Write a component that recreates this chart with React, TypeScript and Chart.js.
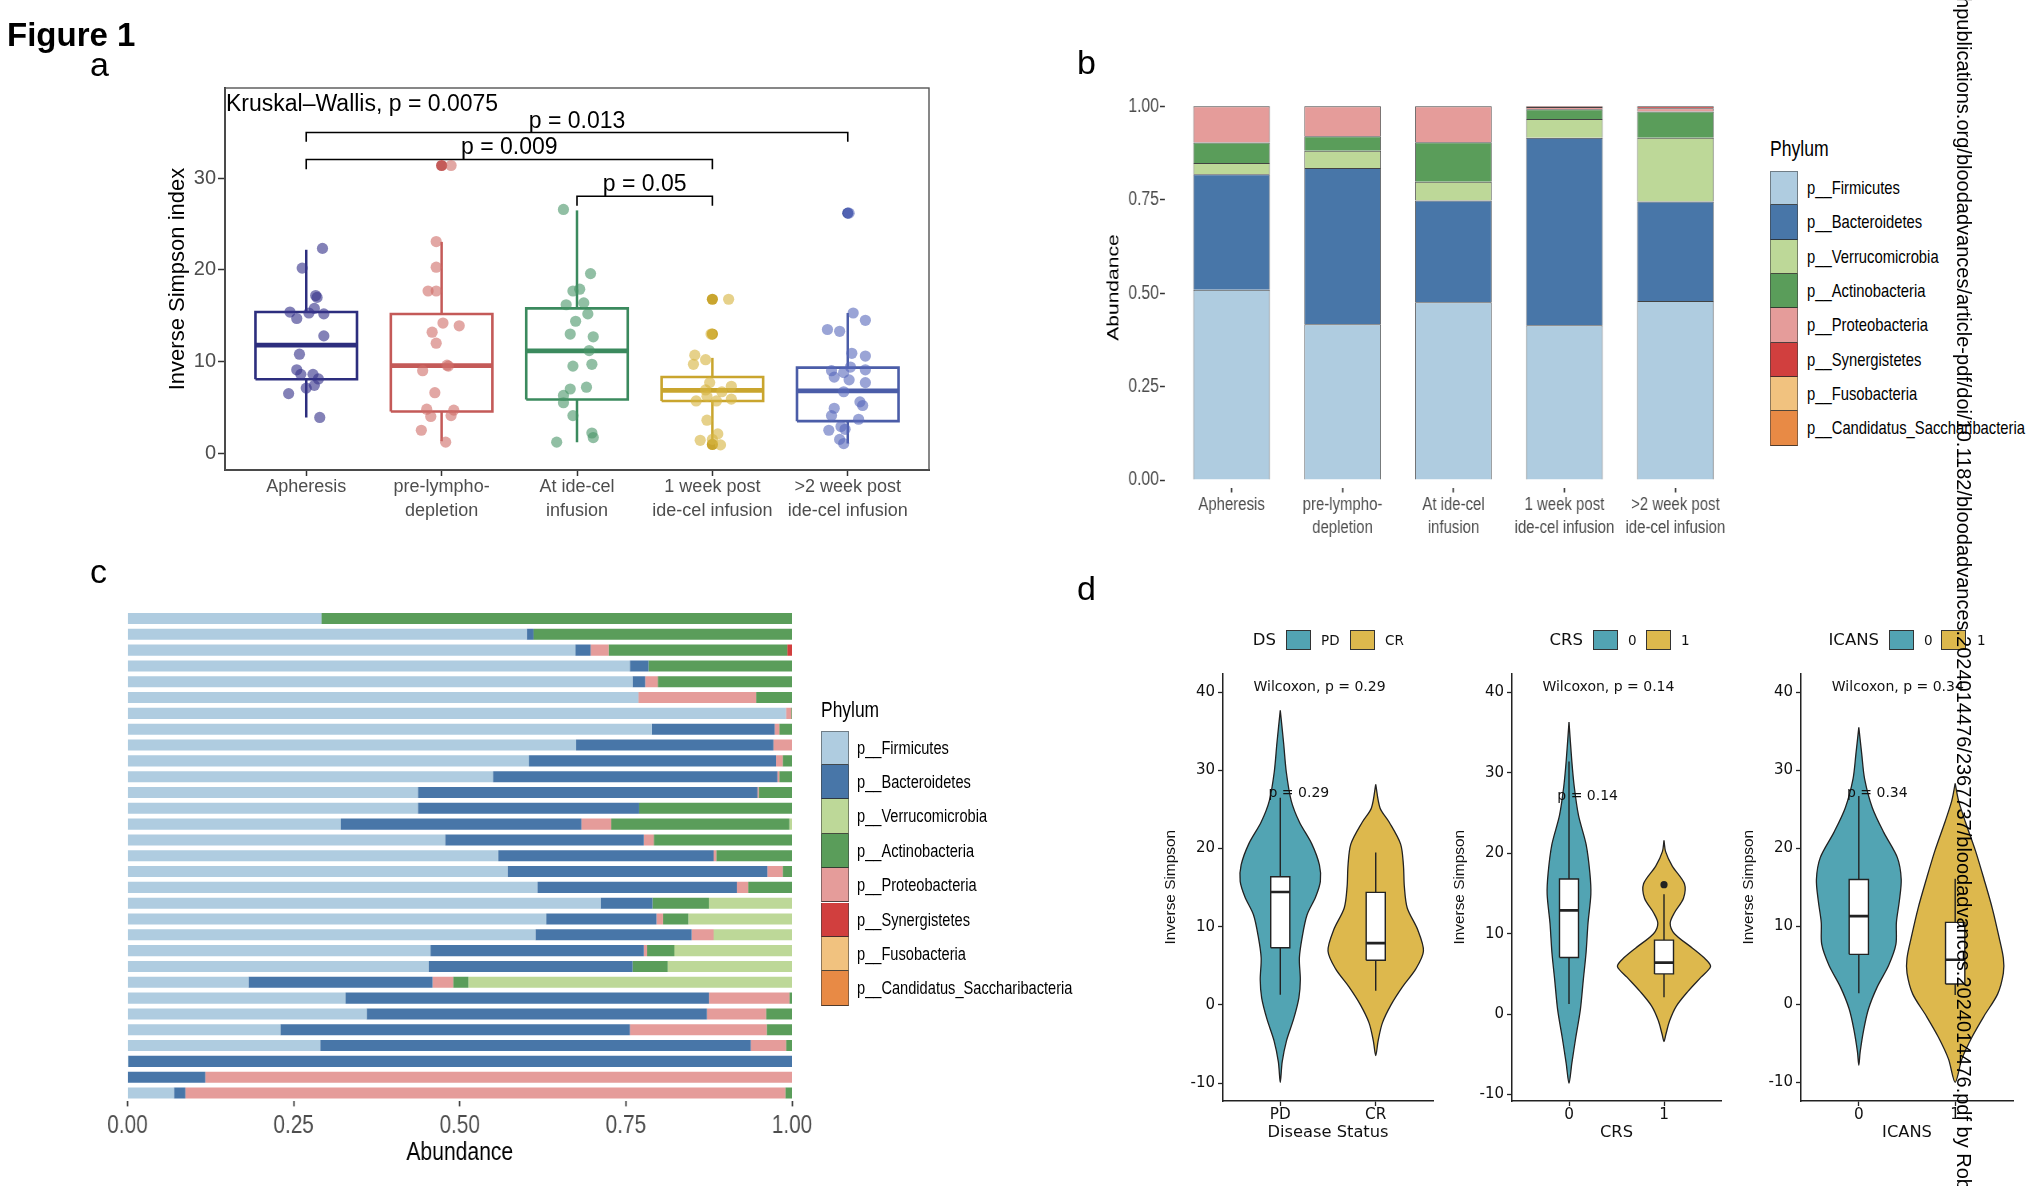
import React, { useEffect, useRef } from 'react';
import { Chart, registerables } from 'chart.js';

Chart.register(...registerables);

// ---------------- fonts ----------------
const SANS = "'Liberation Sans', Arial, Helvetica, sans-serif";
const DEJAVU = "'DejaVu Sans', Verdana, sans-serif";

// ---------------- panel a data ----------------
const A_CATEGORIES = ['Apheresis', 'pre-lympho-depletion', 'At ide-cel infusion', '1 week post ide-cel infusion', '>2 week post ide-cel infusion'];
const A_TICK_LABELS = [['Apheresis'], ['pre-lympho-', 'depletion'], ['At ide-cel', 'infusion'], ['1 week post', 'ide-cel infusion'], ['>2 week post', 'ide-cel infusion']];
const A_Y_TICKS = [0, 10, 20, 30];
const A_Q1 = [8.06, 4.54, 5.85, 5.7, 3.49];
const A_MEDIAN = [11.8, 9.56, 11.17, 6.86, 6.79];
const A_Q3 = [15.4, 15.19, 15.8, 8.32, 9.34];
const A_WHISK_LO = [3.9, 1.31, 1.2, 1.05, 1.05];
const A_WHISK_HI = [22.2, 23.06, 26.5, 10.4, 15.3];

const APH_Y = [22.35, 20.2, 17.2, 17.0, 15.4, 15.3, 15.8, 15.2, 14.7, 12.8, 10.8, 9.1, 8.6, 8.6, 8.1, 7.4, 7.1, 6.5, 3.9];
const APH_DX = [0.12, -0.03, 0.07, 0.08, -0.12, 0.02, 0.06, 0.13, -0.07, 0.13, -0.05, -0.07, -0.04, 0.05, 0.09, 0.06, 0.0, -0.13, 0.1];
const PRE_Y = [31.4, 23.1, 20.3, 17.7, 17.7, 14.2, 13.9, 13.2, 12.0, 9.6, 9.0, 9.5, 6.6, 4.8, 4.7, 4.0, 4.1, 2.5, 1.2];
const PRE_DX = [0.07, -0.04, -0.04, -0.1, -0.04, 0.01, 0.13, -0.07, -0.04, 0.04, -0.14, 0.05, -0.05, -0.11, 0.09, -0.08, 0.07, -0.15, 0.03];
const INF_Y = [26.6, 19.6, 17.7, 17.9, 16.2, 16.4, 15.2, 14.4, 13.0, 12.7, 11.2, 9.5, 9.7, 7.0, 7.2, 6.3, 5.5, 4.1, 2.2, 1.7, 1.2];
const INF_DX = [-0.1, 0.1, -0.03, 0.02, -0.08, 0.05, 0.08, -0.01, -0.05, 0.12, 0.09, -0.03, 0.11, -0.05, 0.07, -0.1, -0.1, -0.03, 0.11, 0.12, -0.15];
const WK1_Y = [16.8, 13.0, 10.7, 10.2, 9.7, 7.7, 7.3, 6.9, 6.7, 6.2, 5.7, 5.9, 5.7, 3.6, 2.1, 1.4, 1.5, 0.9];
const WK1_DX = [0.12, -0.01, -0.13, -0.05, -0.14, -0.02, 0.14, -0.05, 0.07, -0.04, -0.12, 0.14, 0.03, -0.04, 0.04, -0.09, 0.0, 0.06];
const WK2_Y = [26.2, 15.3, 14.5, 13.5, 13.3, 10.9, 10.6, 9.4, 9.0, 8.8, 9.1, 8.0, 7.7, 8.3, 6.7, 5.6, 5.2, 4.9, 4.1, 3.7, 2.9, 2.6, 2.5, 1.5, 1.05];
const WK2_DX = [0.01, 0.04, 0.13, -0.15, -0.06, 0.03, 0.13, 0.02, -0.12, -0.03, 0.13, 0.01, 0.13, -0.1, -0.03, 0.09, 0.11, -0.1, -0.12, 0.08, -0.05, -0.02, -0.14, -0.06, -0.03];

const A_OUT_CAT = [2, 4, 4, 4, 5];
const A_OUT_Y = [31.4, 16.8, 13.0, 0.95, 26.2];

const A_BRACKET_FROM = [1, 1, 3];
const A_BRACKET_TO = [5, 4, 4];
const A_BRACKET_Y = [35.0, 32.06, 28.05];
const A_BRACKET_TIP = [34.0, 31.0, 27.0];
const A_BRACKET_LABELS = ['p = 0.013', 'p = 0.009', 'p = 0.05'];
const A_KRUSKAL = 'Kruskal\u2013Wallis, p = 0.0075';

const A_BOX_COLORS = ['#2D2E7E', '#C45A58', '#3B8A5E', '#C9A52E', '#4B5DA8'];
const A_POINT_COLORS = ['rgba(55,52,138,0.62)', 'rgba(207,108,104,0.6)', 'rgba(72,148,104,0.6)', 'rgba(214,180,66,0.62)', 'rgba(86,104,186,0.6)'];

// ---------------- phylum data (panels b, c) ----------------
const PHYLA = ['p__Firmicutes', 'p__Bacteroidetes', 'p__Verrucomicrobia', 'p__Actinobacteria', 'p__Proteobacteria', 'p__Synergistetes', 'p__Fusobacteria', 'p__Candidatus_Saccharibacteria'];
const PHYLUM_COLORS = ['#AFCCE0', '#4876A8', '#BDD898', '#5A9D5A', '#E59C9A', '#D13F3E', '#F1C27F', '#E88A45'];

const B_CATEGORIES = A_CATEGORIES;
const B_TICK_LABELS = A_TICK_LABELS;
const B_Y_TICKS = [0, 0.25, 0.5, 0.75, 1.0];
const B_FIRMICUTES = [0.509, 0.417, 0.476, 0.414, 0.479];
const B_BACTEROIDETES = [0.309, 0.418, 0.272, 0.502, 0.266];
const B_VERRUCOMICROBIA = [0.03, 0.046, 0.05, 0.05, 0.171];
const B_ACTINOBACTERIA = [0.055, 0.039, 0.106, 0.026, 0.07];
const B_PROTEOBACTERIA = [0.097, 0.08, 0.096, 0.006, 0.009];
const B_SYNERGISTETES = [0, 0, 0, 0.002, 0.005];

const C_SAMPLES = ['S01', 'S02', 'S03', 'S04', 'S05', 'S06', 'S07', 'S08', 'S09', 'S10', 'S11', 'S12', 'S13', 'S14', 'S15', 'S16', 'S17', 'S18', 'S19', 'S20', 'S21', 'S22', 'S23', 'S24', 'S25', 'S26', 'S27', 'S28', 'S29', 'S30', 'S31'];
const C_X_TICKS = [0, 0.25, 0.5, 0.75, 1.0];
const C_FIRMICUTES = [0.292, 0.601, 0.674, 0.756, 0.76, 0.769, 0.991, 0.789, 0.675, 0.604, 0.55, 0.437, 0.437, 0.321, 0.478, 0.558, 0.572, 0.617, 0.712, 0.63, 0.614, 0.456, 0.453, 0.182, 0.328, 0.36, 0.23, 0.29, 0.001, 0, 0.07];
const C_BACTEROIDETES = [0, 0.01, 0.023, 0.028, 0.019, 0, 0, 0.185, 0.297, 0.372, 0.428, 0.511, 0.333, 0.362, 0.299, 0.324, 0.391, 0.3, 0.078, 0.166, 0.235, 0.321, 0.307, 0.277, 0.547, 0.512, 0.526, 0.648, 0.999, 0.117, 0.017];
const C_PROTEOBACTERIA = [0, 0, 0.027, 0, 0.019, 0.177, 0.008, 0.007, 0.028, 0.01, 0.003, 0.002, 0, 0.045, 0.015, 0.004, 0.023, 0.017, 0, 0.01, 0.033, 0.005, 0, 0.031, 0.121, 0.089, 0.206, 0.053, 0, 0.883, 0.903];
const C_ACTINOBACTERIA = [0.708, 0.389, 0.269, 0.216, 0.202, 0.054, 0.001, 0.019, 0, 0.014, 0.019, 0.05, 0.23, 0.268, 0.208, 0.114, 0.014, 0.066, 0.085, 0.038, 0, 0.041, 0.053, 0.023, 0.004, 0.039, 0.038, 0.009, 0, 0, 0.01];
const C_VERRUCOMICROBIA = [0, 0, 0, 0, 0, 0, 0, 0, 0, 0, 0, 0, 0, 0.004, 0, 0, 0, 0, 0.125, 0.156, 0.118, 0.177, 0.187, 0.487, 0, 0, 0, 0, 0, 0, 0];
const C_SYNERGISTETES = [0, 0, 0.007, 0, 0, 0, 0, 0, 0, 0, 0, 0, 0, 0, 0, 0, 0, 0, 0, 0, 0, 0, 0, 0, 0, 0, 0, 0, 0, 0, 0];

// ---------------- panel d data ----------------
const D_Y_TICKS = [-10, 0, 10, 20, 30, 40];
const DS_LABELS = ['PD', 'CR'];
const CRS_LABELS = ['0', '1'];
const ICANS_LABELS = ['0', '1'];

const DS_PD_VY = [37.7, 33.5, 29.8, 26.1, 23.4, 20.6, 17.9, 15.8, 13.8, 11.5, 8.7, 6.0, 3.2, 0.9, -1.8, -4.6, -7.3, -9.9];
const DS_PD_VW = [0, 0.035, 0.063, 0.115, 0.2, 0.33, 0.41, 0.42, 0.37, 0.28, 0.23, 0.2, 0.21, 0.195, 0.14, 0.065, 0.02, 0];
const DS_CR_VY = [28.2, 25.2, 23.4, 20.6, 17.9, 15.1, 12.4, 9.6, 6.9, 4.6, 2.3, 0, -2.3, -4.6, -6.5];
const DS_CR_VW = [0, 0.045, 0.14, 0.26, 0.29, 0.3, 0.33, 0.44, 0.5, 0.42, 0.28, 0.16, 0.07, 0.025, 0];
const CRS0_VY = [36.3, 31.4, 28.3, 24.7, 21.1, 17.5, 14.9, 11.3, 7.7, 4.2, 0.6, -3.0, -6.1, -8.6];
const CRS0_VW = [0, 0.03, 0.055, 0.1, 0.18, 0.22, 0.23, 0.2, 0.18, 0.15, 0.12, 0.07, 0.03, 0];
const CRS1_VY = [21.6, 20.2, 18.4, 16.2, 14.4, 12.6, 11.3, 10.0, 8.2, 6.8, 5.9, 4.6, 2.8, 1.0, -0.8, -2.5, -3.4];
const CRS1_VW = [0, 0.017, 0.087, 0.215, 0.205, 0.11, 0.065, 0.11, 0.3, 0.44, 0.49, 0.39, 0.25, 0.13, 0.06, 0.02, 0];
const ICANS0_VY = [35.5, 32.1, 28.9, 25.2, 22.0, 18.8, 16.0, 13.2, 10.5, 7.7, 5.0, 2.2, -0.6, -3.3, -6.1, -7.8];
const ICANS0_VW = [0, 0.03, 0.06, 0.14, 0.26, 0.4, 0.44, 0.42, 0.39, 0.385, 0.31, 0.19, 0.1, 0.05, 0.014, 0];
const ICANS1_VY = [28.3, 26.1, 23.4, 19.7, 16.0, 12.3, 8.6, 5.9, 4.0, 1.3, -1.5, -4.2, -7.0, -10.0];
const ICANS1_VW = [0, 0.035, 0.105, 0.21, 0.3, 0.385, 0.455, 0.5, 0.5, 0.44, 0.3, 0.175, 0.07, 0];

const DS_Q1 = [7.3, 5.7];
const DS_MED = [14.45, 7.9];
const DS_Q3 = [16.4, 14.4];
const DS_LO = [1.3, 1.8];
const DS_HI = [26.5, 19.5];
const CRS_Q1 = [7.05, 5.0];
const CRS_MED = [12.9, 6.4];
const CRS_Q3 = [16.8, 9.2];
const CRS_LO = [1.25, 2.1];
const CRS_HI = [31.4, 14.9];
const CRS_OUT_X = [2];
const CRS_OUT_Y = [16.1];
const ICANS_Q1 = [6.4, 2.6];
const ICANS_MED = [11.3, 5.7];
const ICANS_Q3 = [16.0, 10.5];
const ICANS_LO = [1.4, 1.2];
const ICANS_HI = [26.7, 16.1];

const D_TEAL = '#52A4B3';
const D_GOLD = '#DDB84D';

const WATERMARK = 'ashpublications.org/bloodadvances/article-pdf/doi/10.1182/bloodadvances.2024014476/2367737/bloodadvances.2024014476.pdf by Rob';

// ---------------- helpers ----------------
type Pt = { x: number; y: number };

function boxPolygon(cx: number, hw: number, lo: number, hi: number): Pt[] {
  return [
    { x: cx - hw, y: lo },
    { x: cx + hw, y: lo },
    { x: cx + hw, y: hi },
    { x: cx - hw, y: hi },
    { x: cx - hw, y: lo },
  ];
}

function violinOutline(cx: number, ys: number[], ws: number[]): Pt[] {
  const left = ys.map((y, i) => ({ x: cx - ws[i], y }));
  const right = ys.map((y, i) => ({ x: cx + ws[i], y })).reverse();
  return [...left, ...right.slice(1)];
}

function lineDs(data: Pt[], color: string, width: number, order: number, extra: any = {}) {
  return {
    type: 'line',
    data,
    borderColor: color,
    borderWidth: width,
    pointRadius: 0,
    pointHoverRadius: 0,
    fill: false,
    tension: 0,
    order,
    borderJoinStyle: 'miter',
    ...extra,
  };
}

type Annot = { text: string; x: number; y: number; align: CanvasTextAlign; baseline: CanvasTextBaseline; dx?: number; dy?: number };

function annotPlugin(items: Annot[], font: string, color: string) {
  return {
    id: 'annot',
    afterDatasetsDraw(chart: any) {
      const { ctx } = chart;
      const xs = chart.scales.x;
      const ys = chart.scales.y;
      ctx.save();
      ctx.font = font;
      ctx.fillStyle = color;
      for (const it of items) {
        ctx.textAlign = it.align;
        ctx.textBaseline = it.baseline;
        ctx.fillText(it.text, xs.getPixelForValue(it.x) + (it.dx || 0), ys.getPixelForValue(it.y) + (it.dy || 0));
      }
      ctx.restore();
    },
  };
}

function framePlugin(color: string, width: number) {
  return {
    id: 'frame',
    beforeDatasetsDraw(chart: any) {
      const { ctx, chartArea } = chart;
      ctx.save();
      ctx.strokeStyle = color;
      ctx.lineWidth = width;
      ctx.strokeRect(chartArea.left, chartArea.top, chartArea.right - chartArea.left, chartArea.bottom - chartArea.top);
      ctx.restore();
    },
  };
}

const BASE = {
  responsive: false,
  animation: false,
  events: [],
};
const NO_PLUGINS = { legend: { display: false }, tooltip: { enabled: false }, title: { display: false } };

// ---------------- panel a ----------------
const A_CANVAS = { left: 0, top: 0, width: 960, height: 560, sx: 1 };
const A_AREA = { left: 225, right: 929, top: 88, bottom: 470 };

function panelAConfig(): any {
  const groups = [
    { y: APH_Y, dx: APH_DX },
    { y: PRE_Y, dx: PRE_DX },
    { y: INF_Y, dx: INF_DX },
    { y: WK1_Y, dx: WK1_DX },
    { y: WK2_Y, dx: WK2_DX },
  ];
  const hw = 0.375;
  const datasets: any[] = [];
  A_CATEGORIES.forEach((_, i) => {
    const cx = i + 1;
    const c = A_BOX_COLORS[i];
    datasets.push(lineDs([{ x: cx, y: A_Q3[i] }, { x: cx, y: A_WHISK_HI[i] }], c, 2.5, 3));
    datasets.push(lineDs([{ x: cx, y: A_Q1[i] }, { x: cx, y: A_WHISK_LO[i] }], c, 2.5, 3));
    datasets.push(lineDs(boxPolygon(cx, hw, A_Q1[i], A_Q3[i]), c, 2.6, 3));
    datasets.push(lineDs([{ x: cx - hw, y: A_MEDIAN[i] }, { x: cx + hw, y: A_MEDIAN[i] }], c, 4.8, 3));
    datasets.push({
      type: 'scatter',
      data: groups[i].y.map((v, k) => ({ x: cx + groups[i].dx[k], y: v })),
      backgroundColor: A_POINT_COLORS[i],
      borderWidth: 0,
      pointRadius: 5.6,
      order: 1,
    });
  });
  datasets.push({
    type: 'scatter',
    data: A_OUT_CAT.map((c, k) => ({ x: c, y: A_OUT_Y[k] })),
    backgroundColor: A_OUT_CAT.map((c) => A_BOX_COLORS[c - 1]),
    borderWidth: 0,
    pointRadius: 5.6,
    order: 2,
  });
  A_BRACKET_FROM.forEach((f, i) => {
    const t = A_BRACKET_TO[i];
    datasets.push(
      lineDs(
        [
          { x: f, y: A_BRACKET_TIP[i] },
          { x: f, y: A_BRACKET_Y[i] },
          { x: t, y: A_BRACKET_Y[i] },
          { x: t, y: A_BRACKET_TIP[i] },
        ],
        '#000',
        1.6,
        2,
      ),
    );
  });
  const annots: Annot[] = [
    { text: A_KRUSKAL, x: 0.4, y: 38.0, align: 'left', baseline: 'middle', dx: 1 },
    ...A_BRACKET_LABELS.map((t, i) => ({
      text: t,
      x: (A_BRACKET_FROM[i] + A_BRACKET_TO[i]) / 2,
      y: A_BRACKET_Y[i],
      align: 'center' as CanvasTextAlign,
      baseline: 'alphabetic' as CanvasTextBaseline,
      dy: -5,
    })),
  ];
  return {
    type: 'scatter',
    data: { datasets },
    options: {
      ...BASE,
      layout: { autoPadding: false, padding: { top: A_AREA.top - A_CANVAS.top, right: A_CANVAS.left + A_CANVAS.width - A_AREA.right, left: 0, bottom: 0 } },
      plugins: NO_PLUGINS,
      scales: {
        x: {
          type: 'linear',
          min: 0.4,
          max: 5.6,
          bounds: 'data',
          afterBuildTicks: (s: any) => {
            s.ticks = A_TICK_LABELS.map((_, i) => ({ value: i + 1 }));
          },
          afterFit: (s: any) => {
            s.height = A_CANVAS.top + A_CANVAS.height - A_AREA.bottom;
          },
          ticks: {
            autoSkip: false,
            maxRotation: 0,
            minRotation: 0,
            padding: 0,
            color: '#4D4D4D',
            font: { family: SANS, size: 18, lineHeight: 1.28 },
            callback: (v: number) => A_TICK_LABELS[Math.round(v) - 1],
          },
          grid: { display: true, drawOnChartArea: false, drawTicks: true, tickLength: 6, tickColor: '#333', tickWidth: 1.5 },
          border: { display: true, color: '#333', width: 2 },
        },
        y: {
          type: 'linear',
          min: -1.84,
          max: 39.86,
          bounds: 'data',
          afterBuildTicks: (s: any) => {
            s.ticks = A_Y_TICKS.map((v) => ({ value: v }));
          },
          afterFit: (s: any) => {
            s.width = A_AREA.left - A_CANVAS.left;
          },
          ticks: { padding: 2, color: '#4D4D4D', font: { family: SANS, size: 20 }, callback: (v: number) => String(v) },
          grid: { display: true, drawOnChartArea: false, drawTicks: true, tickLength: 7, tickColor: '#333', tickWidth: 1.5 },
          border: { display: true, color: '#333', width: 2 },
          title: { display: true, text: 'Inverse Simpson index', color: '#000', font: { family: SANS, size: 22 }, padding: { top: 178 - 13.2, bottom: 0 } },
        },
      },
    },
    plugins: [framePlugin('#555', 1.4), annotPlugin(annots, `23px ${SANS}`, '#000')],
  };
}

// ---------------- panel b (drawn on a horizontally condensed canvas) ----------------
const B_CANVAS = { left: 1060, top: 40, width: 700, height: 520, sx: 0.8 };
const B_AREA = { left: 1165, right: 1742, top: 87.6, bottom: 487.5 };
const bx = (px: number) => (px - B_CANVAS.left) / B_CANVAS.sx;

function panelBConfig(): any {
  const series = [
    { values: B_FIRMICUTES, color: PHYLUM_COLORS[0] },
    { values: B_BACTEROIDETES, color: PHYLUM_COLORS[1] },
    { values: B_VERRUCOMICROBIA, color: PHYLUM_COLORS[2] },
    { values: B_ACTINOBACTERIA, color: PHYLUM_COLORS[3] },
    { values: B_PROTEOBACTERIA, color: PHYLUM_COLORS[4] },
    { values: B_SYNERGISTETES, color: PHYLUM_COLORS[5] },
  ];
  const xs = 18.7;
  return {
    type: 'bar',
    data: {
      datasets: series.map((s) => ({
        data: s.values.map((v, i) => ({ x: i + 1, y: v })),
        backgroundColor: s.color,
        borderColor: 'rgba(45,45,45,0.9)',
        borderWidth: { top: 1, bottom: 0, left: 0.9, right: 0.9 },
        borderSkipped: false,
        barPercentage: 0.69,
        categoryPercentage: 1,
      })),
    },
    options: {
      ...BASE,
      layout: { autoPadding: false, padding: { top: B_AREA.top - B_CANVAS.top, right: bx(B_CANVAS.left + B_CANVAS.width) - bx(B_AREA.right), left: 0, bottom: 0 } },
      plugins: NO_PLUGINS,
      scales: {
        x: {
          type: 'linear',
          min: 0.4,
          max: 5.6,
          bounds: 'data',
          offset: false,
          stacked: true,
          afterBuildTicks: (s: any) => {
            s.ticks = B_CATEGORIES.map((_, i) => ({ value: i + 1 }));
          },
          afterFit: (s: any) => {
            s.height = B_CANVAS.top + B_CANVAS.height - B_AREA.bottom;
          },
          ticks: {
            autoSkip: false,
            maxRotation: 0,
            minRotation: 0,
            padding: 1,
            color: '#4D4D4D',
            font: { family: SANS, size: xs, lineHeight: 23 / xs },
            callback: (v: number) => B_TICK_LABELS[Math.round(v) - 1],
          },
          grid: { display: true, offset: false, drawOnChartArea: false, drawTicks: true, tickLength: 5, tickColor: '#333', tickWidth: 1.8 },
          border: { display: false },
        },
        y: {
          type: 'linear',
          min: -0.02,
          max: 1.05,
          bounds: 'data',
          stacked: true,
          afterBuildTicks: (s: any) => {
            s.ticks = B_Y_TICKS.map((v) => ({ value: v }));
          },
          afterFit: (s: any) => {
            s.width = bx(B_AREA.left);
          },
          ticks: { padding: 1.5, color: '#4D4D4D', font: { family: SANS, size: 19.5 }, callback: (v: number) => v.toFixed(2) },
          grid: { display: true, drawOnChartArea: false, drawTicks: true, tickLength: 6.25, tickColor: '#333', tickWidth: 1.5 },
          border: { display: false },
          title: { display: true, text: 'Abundance', color: '#000', font: { family: SANS, size: 21 }, padding: { top: bx(1114) - 12.6, bottom: 0 } },
        },
      },
    },
  };
}

// ---------------- panel c (drawn on a horizontally condensed canvas) ----------------
const C_CANVAS = { left: 40, top: 590, width: 800, height: 596, sx: 0.8 };
const C_AREA = { left: 127.5, right: 792, top: 610.6, bottom: 1100.9 };
const cxp = (px: number) => (px - C_CANVAS.left) / C_CANVAS.sx;

function panelCConfig(): any {
  const series = [
    { values: C_FIRMICUTES, color: PHYLUM_COLORS[0] },
    { values: C_BACTEROIDETES, color: PHYLUM_COLORS[1] },
    { values: C_PROTEOBACTERIA, color: PHYLUM_COLORS[4] },
    { values: C_ACTINOBACTERIA, color: PHYLUM_COLORS[3] },
    { values: C_VERRUCOMICROBIA, color: PHYLUM_COLORS[2] },
    { values: C_SYNERGISTETES, color: PHYLUM_COLORS[5] },
  ];
  const tickSize = 26;
  const titleSize = 26.4;
  return {
    type: 'bar',
    data: {
      labels: C_SAMPLES,
      datasets: series.map((s) => ({
        data: s.values,
        backgroundColor: s.color,
        borderWidth: 0,
        barPercentage: 0.7,
        categoryPercentage: 1,
      })),
    },
    options: {
      ...BASE,
      indexAxis: 'y',
      layout: { autoPadding: false, padding: { top: C_AREA.top - C_CANVAS.top, right: cxp(C_CANVAS.left + C_CANVAS.width) - cxp(C_AREA.right), left: 0, bottom: 0 } },
      plugins: NO_PLUGINS,
      scales: {
        x: {
          type: 'linear',
          min: 0,
          max: 1,
          bounds: 'data',
          stacked: true,
          afterBuildTicks: (s: any) => {
            s.ticks = C_X_TICKS.map((v) => ({ value: v }));
          },
          afterFit: (s: any) => {
            s.height = C_CANVAS.top + C_CANVAS.height - C_AREA.bottom;
          },
          ticks: { autoSkip: false, maxRotation: 0, padding: 4, color: '#4D4D4D', font: { family: SANS, size: tickSize }, callback: (v: number) => v.toFixed(2) },
          grid: { display: true, drawOnChartArea: false, drawTicks: true, tickLength: 5.5, tickColor: '#333', tickWidth: 1.8 },
          border: { display: false },
          title: { display: true, text: 'Abundance', color: '#000', font: { family: SANS, size: titleSize }, padding: { top: 0, bottom: 1186 - 1153 - (titleSize * 1.2) / 2 } },
        },
        y: {
          type: 'category',
          stacked: true,
          afterFit: (s: any) => {
            s.width = cxp(C_AREA.left);
          },
          ticks: { display: false },
          grid: { display: false },
          border: { display: false },
        },
      },
    },
  };
}

// ---------------- panel d ----------------
const D_TOP = 600;
const D_HEIGHT = 586;
const D_WIDTH = 315;
const D_PLOT_TOP = 673.5;
const D_PLOT_BOTTOM = 1101;

type ViolinSpec = {
  canvasLeft: number;
  axisLeft: number;
  axisRight: number;
  yMin: number;
  yMax: number;
  labels: string[];
  title: string;
  vy: number[][];
  vw: number[][];
  q1: number[];
  med: number[];
  q3: number[];
  lo: number[];
  hi: number[];
  outX: number[];
  outY: number[];
  wilcox: string;
  pText: string;
};

const D_SPECS: ViolinSpec[] = [
  {
    canvasLeft: 1130, axisLeft: 1223, axisRight: 1433, yMin: -12.3, yMax: 42.4,
    labels: DS_LABELS, title: 'Disease Status',
    vy: [DS_PD_VY, DS_CR_VY], vw: [DS_PD_VW, DS_CR_VW],
    q1: DS_Q1, med: DS_MED, q3: DS_Q3, lo: DS_LO, hi: DS_HI, outX: [], outY: [],
    wilcox: 'Wilcoxon, p = 0.29', pText: 'p = 0.29',
  },
  {
    canvasLeft: 1419, axisLeft: 1512, axisRight: 1721, yMin: -10.8, yMax: 42.35,
    labels: CRS_LABELS, title: 'CRS',
    vy: [CRS0_VY, CRS1_VY], vw: [CRS0_VW, CRS1_VW],
    q1: CRS_Q1, med: CRS_MED, q3: CRS_Q3, lo: CRS_LO, hi: CRS_HI, outX: CRS_OUT_X, outY: CRS_OUT_Y,
    wilcox: 'Wilcoxon, p = 0.14', pText: 'p = 0.14',
  },
  {
    canvasLeft: 1708, axisLeft: 1801, axisRight: 2013, yMin: -12.4, yMax: 42.4,
    labels: ICANS_LABELS, title: 'ICANS',
    vy: [ICANS0_VY, ICANS1_VY], vw: [ICANS0_VW, ICANS1_VW],
    q1: ICANS_Q1, med: ICANS_MED, q3: ICANS_Q3, lo: ICANS_LO, hi: ICANS_HI, outX: [], outY: [],
    wilcox: 'Wilcoxon, p = 0.34', pText: 'p = 0.34',
  },
];

function violinConfig(s: ViolinSpec): any {
  const fills = [D_TEAL, D_GOLD];
  const datasets: any[] = [];
  const bw = 0.1;
  s.labels.forEach((_, i) => {
    const cx = i + 1;
    datasets.push({
      ...lineDs(violinOutline(cx, s.vy[i], s.vw[i]), '#222', 1.3, 6),
      backgroundColor: fills[i],
      fill: 'shape',
      tension: 0.3,
    });
    datasets.push(lineDs([{ x: cx, y: s.q3[i] }, { x: cx, y: s.hi[i] }], '#222', 1.4, 5));
    datasets.push(lineDs([{ x: cx, y: s.q1[i] }, { x: cx, y: s.lo[i] }], '#222', 1.4, 5));
    datasets.push({ ...lineDs(boxPolygon(cx, bw, s.q1[i], s.q3[i]), '#222', 1.4, 4), backgroundColor: '#FFFFFF', fill: 'shape' });
    datasets.push(lineDs([{ x: cx - bw, y: s.med[i] }, { x: cx + bw, y: s.med[i] }], '#222', 2.6, 3));
  });
  if (s.outX.length) {
    datasets.push({
      type: 'scatter',
      data: s.outX.map((x, k) => ({ x, y: s.outY[k] })),
      backgroundColor: '#222',
      borderWidth: 0,
      pointRadius: 3.6,
      order: 2,
    });
  }
  const annots: Annot[] = [
    { text: s.wilcox, x: 0.72, y: 40.6, align: 'left', baseline: 'middle' },
    { text: s.pText, x: 0.877, y: 27.05, align: 'left', baseline: 'middle' },
  ];
  const yTitleSize = 15.4;
  const xTitleSize = 16.3;
  return {
    type: 'scatter',
    data: { datasets },
    options: {
      ...BASE,
      layout: { autoPadding: false, padding: { top: D_PLOT_TOP - D_TOP, right: s.canvasLeft + D_WIDTH - s.axisRight, left: 0, bottom: 0 } },
      plugins: NO_PLUGINS,
      scales: {
        x: {
          type: 'linear',
          min: 0.4,
          max: 2.6,
          bounds: 'data',
          afterBuildTicks: (sc: any) => {
            sc.ticks = s.labels.map((_, i) => ({ value: i + 1 }));
          },
          afterFit: (sc: any) => {
            sc.height = D_TOP + D_HEIGHT - D_PLOT_BOTTOM;
          },
          ticks: { autoSkip: false, maxRotation: 0, minRotation: 0, padding: 0, color: '#111', font: { family: DEJAVU, size: 15.3 }, callback: (v: number) => s.labels[Math.round(v) - 1] },
          grid: { display: true, drawOnChartArea: false, drawTicks: true, tickLength: 5, tickColor: '#222', tickWidth: 1.3 },
          border: { display: true, color: '#222', width: 1.5 },
          title: { display: true, text: s.title, color: '#111', font: { family: DEJAVU, size: xTitleSize }, padding: { top: 0, bottom: 1186 - 1133 - (xTitleSize * 1.2) / 2 } },
        },
        y: {
          type: 'linear',
          min: s.yMin,
          max: s.yMax,
          bounds: 'data',
          afterBuildTicks: (sc: any) => {
            sc.ticks = D_Y_TICKS.map((v) => ({ value: v }));
          },
          afterFit: (sc: any) => {
            sc.width = s.axisLeft - s.canvasLeft;
          },
          ticks: { padding: 3, color: '#111', font: { family: DEJAVU, size: 15 }, callback: (v: number) => String(v) },
          grid: { display: true, drawOnChartArea: false, drawTicks: true, tickLength: 5, tickColor: '#222', tickWidth: 1.3 },
          border: { display: true, color: '#222', width: 1.5 },
          title: { display: true, text: 'Inverse Simpson', color: '#111', font: { family: SANS, size: yTitleSize }, padding: { top: s.axisLeft - 52 - s.canvasLeft - (yTitleSize * 1.2) / 2, bottom: 0 } },
        },
      },
    },
    plugins: [annotPlugin(annots, `14px ${DEJAVU}`, '#111')],
  };
}

// ---------------- components ----------------
function ChartCanvas({ left, top, width, height, sx, make }: { left: number; top: number; width: number; height: number; sx: number; make: () => any }) {
  const ref = useRef<HTMLCanvasElement | null>(null);
  const iw = Math.round(width / sx);
  useEffect(() => {
    if (!ref.current) return;
    const chart = new Chart(ref.current, make());
    return () => chart.destroy();
  }, []);
  return (
    <canvas
      ref={ref}
      width={iw}
      height={height}
      style={{ position: 'absolute', left, top, width: iw, height, transform: sx !== 1 ? `scaleX(${sx})` : undefined, transformOrigin: '0 0' }}
    />
  );
}

function Txt({ left, baseline, size, family, weight, sx, children }: any) {
  return (
    <div
      style={{
        position: 'absolute',
        left,
        top: baseline - 0.8465 * size,
        fontFamily: family,
        fontSize: size,
        fontWeight: weight || 'normal',
        lineHeight: `${size}px`,
        whiteSpace: 'nowrap',
        color: '#000',
        transform: sx ? `scaleX(${sx})` : undefined,
        transformOrigin: '0 0',
      }}
    >
      {children}
    </div>
  );
}

function PhylumLegend({ x, titleBaseline, keysTop, keyW, keyH, labelX, titleSize, labelSize, sx }: any) {
  return (
    <>
      <Txt left={x} baseline={titleBaseline} size={titleSize} family={SANS} sx={sx}>
        Phylum
      </Txt>
      {PHYLA.map((name, i) => (
        <React.Fragment key={name}>
          <div
            style={{
              position: 'absolute',
              left: x,
              top: keysTop + i * keyH,
              width: keyW,
              height: keyH,
              background: PHYLUM_COLORS[i],
              boxSizing: 'border-box',
              borderLeft: '1px solid rgba(60,60,60,0.55)',
              borderRight: '1px solid rgba(60,60,60,0.55)',
              borderBottom: '1px solid rgba(40,40,40,0.8)',
              borderTop: i === 0 ? '1px solid rgba(60,60,60,0.55)' : 'none',
            }}
          />
          <div
            style={{
              position: 'absolute',
              left: labelX,
              top: keysTop + i * keyH,
              height: keyH,
              lineHeight: `${keyH}px`,
              fontFamily: SANS,
              fontSize: labelSize,
              whiteSpace: 'nowrap',
              color: '#000',
              transform: `scaleX(${sx})`,
              transformOrigin: '0 0',
            }}
          >
            {name}
          </div>
        </React.Fragment>
      ))}
    </>
  );
}

const D_LEGENDS = [
  { title: 'DS', titleRight: 1276, boxes: [1286, 1350], labelLefts: [1321, 1385], labels: ['PD', 'CR'] },
  { title: 'CRS', titleRight: 1583, boxes: [1593, 1646], labelLefts: [1628, 1681], labels: ['0', '1'] },
  { title: 'ICANS', titleRight: 1879, boxes: [1889, 1941], labelLefts: [1924, 1977], labels: ['0', '1'] },
];

function DLegend({ spec }: any) {
  const cy = 640;
  const fills = [D_TEAL, D_GOLD];
  return (
    <>
      <div style={{ position: 'absolute', left: spec.titleRight - 200, width: 200, top: cy - 12, height: 24, lineHeight: '24px', textAlign: 'right', fontFamily: DEJAVU, fontSize: 16.5, color: '#111', whiteSpace: 'nowrap' }}>
        {spec.title}
      </div>
      {spec.boxes.map((bxp: number, i: number) => (
        <React.Fragment key={i}>
          <div style={{ position: 'absolute', left: bxp, top: cy - 10, width: 25, height: 20, boxSizing: 'border-box', border: '1.3px solid #333', background: fills[i] }} />
          <div style={{ position: 'absolute', left: spec.labelLefts[i], top: cy - 12, height: 24, lineHeight: '24px', fontFamily: DEJAVU, fontSize: 13.5, color: '#111', whiteSpace: 'nowrap' }}>
            {spec.labels[i]}
          </div>
        </React.Fragment>
      ))}
    </>
  );
}

export default function App() {
  return (
    <div style={{ position: 'absolute', left: 0, top: 0, width: 2028, height: 1186, overflow: 'hidden', background: '#fff', fontFamily: SANS }}>
      <ChartCanvas {...A_CANVAS} make={panelAConfig} />
      <ChartCanvas {...B_CANVAS} make={panelBConfig} />
      <ChartCanvas {...C_CANVAS} make={panelCConfig} />
      {D_SPECS.map((s, i) => (
        <ChartCanvas key={i} left={s.canvasLeft} top={D_TOP} width={D_WIDTH} height={D_HEIGHT} sx={1} make={() => violinConfig(s)} />
      ))}

      <Txt left={7} baseline={46} size={33} family={SANS} weight="bold">
        Figure 1
      </Txt>
      <Txt left={90} baseline={76} size={34} family={SANS}>
        a
      </Txt>
      <Txt left={1077} baseline={74} size={34} family={SANS}>
        b
      </Txt>
      <Txt left={90} baseline={583} size={34} family={SANS}>
        c
      </Txt>
      <Txt left={1077} baseline={600} size={34} family={SANS}>
        d
      </Txt>

      <PhylumLegend x={1770} titleBaseline={157} keysTop={171} keyW={27.5} keyH={34.33} labelX={1806.6} titleSize={22} labelSize={18.5} sx={0.8} />
      <PhylumLegend x={821} titleBaseline={717} keysTop={730.5} keyW={28} keyH={34.4} labelX={857} titleSize={21.8} labelSize={18.3} sx={0.8} />

      {D_LEGENDS.map((s, i) => (
        <DLegend key={i} spec={s} />
      ))}

      <div
        style={{
          position: 'absolute',
          left: 1974,
          top: -24,
          transform: 'rotate(90deg)',
          transformOrigin: '0 0',
          fontFamily: SANS,
          fontSize: 20,
          lineHeight: '20px',
          whiteSpace: 'nowrap',
          color: '#000',
        }}
      >
        {WATERMARK}
      </div>
    </div>
  );
}
